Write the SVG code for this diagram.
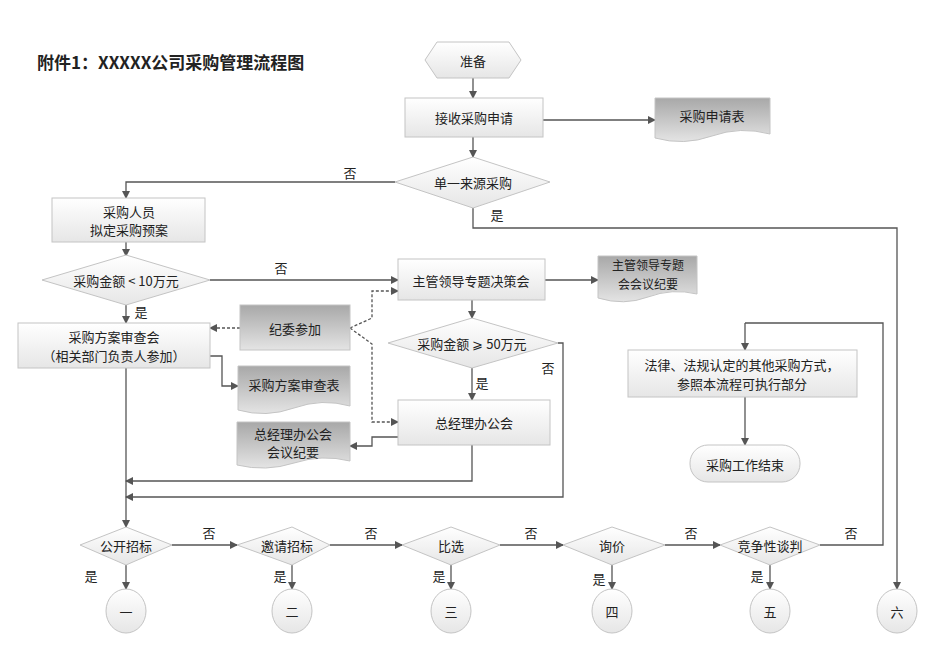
<svg xmlns="http://www.w3.org/2000/svg" width="950" height="672" viewBox="0 0 950 672">
<defs>
<linearGradient id="lg" x1="0" y1="0" x2="0" y2="1"><stop offset="0" stop-color="#ffffff"/><stop offset="1" stop-color="#e6e6e6"/></linearGradient>
<linearGradient id="dg" x1="0" y1="0" x2="0" y2="1"><stop offset="0" stop-color="#a8a8a8"/><stop offset="1" stop-color="#e4e4e4"/></linearGradient>
<marker id="a" markerWidth="8" markerHeight="8" refX="7" refY="4" orient="auto" markerUnits="userSpaceOnUse"><path d="M0,0 L8,4 L0,8 z" fill="#555"/></marker>
</defs>
<style>
text{font-family:"Noto Sans CJK SC","Liberation Sans",sans-serif;font-size:13px;fill:#222;text-anchor:middle;dominant-baseline:central}
.n{fill:url(#lg);stroke:#c4c4c4;stroke-width:1}
.d{fill:url(#dg);stroke:#c4c4c4;stroke-width:1}
.c path,.c polyline,.c line{fill:none;stroke:#555;stroke-width:1.3;marker-end:url(#a)}
.c .nm{marker-end:none}
.c .ds{stroke-dasharray:3,2}
.t{font-weight:bold;font-size:17px;text-anchor:start}
.s{font-size:12px}
</style>
<rect width="950" height="672" fill="#fff"/>
<text class="t" x="37" y="61">附件1：XXXXX公司采购管理流程图</text>
<g class="c">
<line x1="473" y1="78" x2="473" y2="98"/>
<line x1="543" y1="120" x2="655" y2="120"/>
<line x1="473" y1="137" x2="473" y2="157"/>
<polyline points="395,182 126,182 126,198"/>
<polyline points="473,208 473,228 897,228 897,589"/>
<line x1="126" y1="242" x2="126" y2="256"/>
<line x1="210" y1="280" x2="398" y2="280"/>
<line x1="545" y1="280" x2="598" y2="280"/>
<line x1="126" y1="305" x2="126" y2="323"/>
<line class="ds" x1="240" y1="328" x2="210" y2="328"/>
<polyline class="ds" points="350,328 372,318 372,291 398,291"/>
<polyline class="ds" points="350,328 372,344 372,422 398,422"/>
<polyline points="210,356 222,356 222,386 238,386"/>
<line x1="472" y1="300" x2="472" y2="318"/>
<line x1="472" y1="368" x2="472" y2="400"/>
<polyline points="558,343 563,343 563,497 126,497"/>
<polyline points="398,437 372,437 372,446 350,446"/>
<polyline points="472,445 472,481 126,481"/>
<line x1="126" y1="368" x2="126" y2="527"/>
<line x1="745" y1="323" x2="745" y2="350"/>
<line x1="745" y1="397" x2="745" y2="445"/>
<line x1="172" y1="545" x2="237" y2="545"/>
<line x1="330" y1="545" x2="402" y2="545"/>
<line x1="500" y1="545" x2="563" y2="545"/>
<line x1="665" y1="545" x2="720" y2="545"/>
<polyline class="nm" points="820,545 883,545 883,323 745,323"/>
<line x1="126" y1="565" x2="126" y2="589"/>
<line x1="292" y1="565" x2="292" y2="589"/>
<line x1="451" y1="565" x2="451" y2="589"/>
<line x1="612" y1="565" x2="612" y2="589"/>
<line x1="770" y1="565" x2="770" y2="589"/>
</g>
<g id="labels">
<text x="350" y="172">否</text><text x="497" y="214">是</text>
<text x="281" y="267">否</text><text x="141" y="311">是</text>
<text x="548" y="367">否</text><text x="482" y="382">是</text>
<text x="209" y="532">否</text><text x="371" y="532">否</text><text x="531" y="532">否</text><text x="691" y="532">否</text><text x="851" y="532">否</text>
<text x="91" y="575">是</text><text x="280" y="575">是</text><text x="439" y="575">是</text><text x="599" y="578">是</text><text x="757" y="575">是</text>
</g>
<g id="n_prep"><polygon class="n" points="437,42 509,42 521,60 509,78 437,78 425,60"/><text x="473" y="60">准备</text></g>
<g id="n_recv"><rect class="n" x="405" y="98" width="138" height="39"/><text x="474" y="117">接收采购申请</text></g>
<g id="n_form"><path class="d" d="M655,98 H770 V134 Q740,126 712,136 Q684,146 655,138 Z"/><text x="712" y="115">采购申请表</text></g>
<g id="n_single"><polygon class="n" points="473,157 550,182 473,208 395,182"/><text x="473" y="182">单一来源采购</text></g>
<g id="n_staff"><rect class="n" x="52" y="198" width="153" height="44"/><text x="129" y="211">采购人员</text><text x="129" y="229">拟定采购预案</text></g>
<g id="n_lt10"><polygon class="n" points="126,255 210,280 126,305 42,280"/><text x="126" y="280">采购金额 &lt;  10万元</text></g>
<g id="n_lead"><rect class="n" x="398" y="259" width="147" height="41"/><text x="471" y="280">主管领导专题决策会</text></g>
<g id="n_leadmin"><path class="d" d="M598,256 H697 V294 Q672,288 648,297 Q624,306 598,298 Z"/><text class="s" x="648" y="264">主管领导专题</text><text class="s" x="648" y="283">会会议纪要</text></g>
<g id="n_review"><rect class="n" x="18" y="323" width="192" height="45"/><text x="114" y="336">采购方案审查会</text><text x="114" y="355">（相关部门负责人参加）</text></g>
<g id="n_jiwei"><rect class="d" x="240" y="305" width="110" height="45"/><text x="295" y="328">纪委参加</text></g>
<g id="n_reviewform"><path class="d" d="M238,366 H350 V406 Q322,398 294,408 Q266,418 238,410 Z"/><text x="294" y="384">采购方案审查表</text></g>
<g id="n_ge50"><polygon class="n" points="472,318 558,343 472,368 388,343"/><text x="472" y="343">采购金额 ⩾ 50万元</text></g>
<g id="n_gm"><rect class="n" x="398" y="400" width="152" height="45"/><text x="474" y="422">总经理办公会</text></g>
<g id="n_gmmin"><path class="d" d="M237,422 H350 V461 Q322,454 294,463 Q266,472 237,465 Z"/><text x="293" y="433">总经理办公会</text><text x="293" y="451">会议纪要</text></g>
<g id="n_law"><rect class="n" x="628" y="350" width="229" height="47"/><text x="742" y="364">法律、法规认定的其他采购方式，</text><text x="742" y="383">参照本流程可执行部分</text></g>
<g id="n_end"><rect class="n" x="690" y="445" width="110" height="37" rx="18"/><text x="745" y="464">采购工作结束</text></g>
<g id="n_d1"><polygon class="n" points="126,527 172,545 126,565 80,545"/><text x="126" y="545">公开招标</text></g>
<g id="n_d2"><polygon class="n" points="292,527 330,545 292,565 237,545"/><text x="287" y="545">邀请招标</text></g>
<g id="n_d3"><polygon class="n" points="451,527 500,545 451,565 402,545"/><text x="451" y="545">比选</text></g>
<g id="n_d4"><polygon class="n" points="612,527 665,545 612,565 563,545"/><text x="612" y="545">询价</text></g>
<g id="n_d5"><polygon class="n" points="770,527 820,545 770,565 720,545"/><text x="770" y="545">竞争性谈判</text></g>
<g id="n_c1"><ellipse class="n" cx="126" cy="611" rx="20" ry="22"/><text x="126" y="611">一</text></g>
<g id="n_c2"><ellipse class="n" cx="292" cy="611" rx="20" ry="22"/><text x="292" y="611">二</text></g>
<g id="n_c3"><ellipse class="n" cx="451" cy="611" rx="20" ry="22"/><text x="451" y="611">三</text></g>
<g id="n_c4"><ellipse class="n" cx="612" cy="611" rx="20" ry="22"/><text x="612" y="611">四</text></g>
<g id="n_c5"><ellipse class="n" cx="770" cy="611" rx="20" ry="22"/><text x="770" y="611">五</text></g>
<g id="n_c6"><ellipse class="n" cx="897" cy="611" rx="20" ry="22"/><text x="897" y="611">六</text></g>
</svg>
